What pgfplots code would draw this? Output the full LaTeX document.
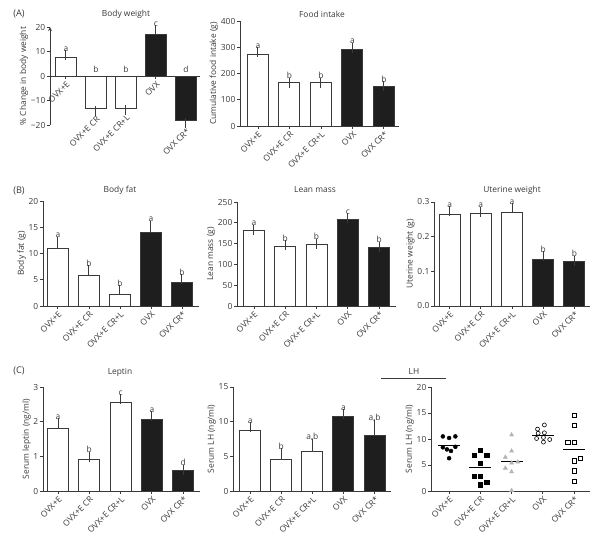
\documentclass[border=0pt]{standalone}
\usepackage{fontspec}
\setmainfont{Open Sans}
\usepackage{pgfplots}
\pgfplotsset{compat=1.18}
\definecolor{axc}{HTML}{3A3A3A}
\definecolor{kfill}{HTML}{1E1E1E}
\definecolor{tri}{HTML}{B4B4B4}
\newcommand\lbl{\fontsize{8.4bp}{9.5bp}\selectfont}
\pgfplotsset{
  base/.style={scale only axis, axis lines=left, axis line style={-, draw=axc, line width=0.8bp},
    tick style={draw=axc, line width=0.8bp}, tick align=outside, major tick length=3bp,
    minor tick num=0,
    xtick={0,1,2,3,4}, xticklabels={OVX+E,OVX+E CR,OVX+E CR+L,OVX,OVX CR*},
    xticklabel style={rotate=45, anchor=north east, inner sep=1bp, font=\lbl, text=axc},
    yticklabel style={font=\lbl, text=axc, inner sep=1.5bp},
    ylabel style={font=\lbl, text=axc, inner sep=1bp},
    /pgf/number format/assume math mode=true,
    clip=false, anchor=south west, ymin=0},
  wb/.style={ybar, bar shift=0pt, bar width=21bp, fill=white, draw=axc, line width=0.95bp,
    error bars/y dir=plus, error bars/y explicit,
    error bars/error bar style={line width=0.95bp, draw=axc},
    error bars/error mark options={mark size=5bp, line width=0.95bp, draw=axc}},
  kb/.style={wb, fill=kfill},
  wbn/.style={wb, error bars/y dir=minus},
  kbn/.style={kb, error bars/y dir=minus},
}
\tikzset{
  lt/.style={anchor=south, font=\lbl, text=axc, inner sep=1bp, yshift=2.5bp},
  xl/.style={rotate=45, anchor=north east, inner sep=1bp, font=\lbl, text=axc},
  ttl/.style={font=\lbl, text=axc},
  pl/.style={font=\fontsize{9.2bp}{10bp}\selectfont, text=axc},
}
\begin{document}
\begin{tikzpicture}
\path[use as bounding box] (0,0) rectangle (600bp,-543bp);
\node[pl] at (19bp,-14bp) {(A)};
\node[pl] at (19bp,-191bp) {(B)};
\node[pl] at (19bp,-371bp) {(C)};
\node[ttl] at (126bp,-14bp) {Body weight};
\node[ttl] at (322bp,-14bp) {Food intake};
\node[ttl] at (120bp,-190bp) {Body fat};
\node[ttl] at (315bp,-190bp) {Lean mass};
\node[ttl] at (512bp,-190bp) {Uterine weight};
\node[ttl] at (120bp,-372bp) {Leptin};
\node[ttl] at (414bp,-371bp) {LH};
\draw[axc, line width=0.8bp] (381bp,-378bp) -- (446bp,-378bp);

% ---------------- Body weight
\begin{axis}[base, at={(50bp,-125bp)}, width=150bp, height=98bp,
  axis x line=middle, axis y line=left, tick align=outside,
  x axis line style={-}, xmin=-0.53, xmax=4.47, ymin=-20, ymax=20,
  ytick={-20,-10,0,10,20}, yticklabels={−20,−10,0,10,20}, xticklabels={},
  ylabel={\% Change in body weight}]
\addplot[wb] coordinates {(0,7.6) +- (0,1.0)};
\addplot[wbn] coordinates {(1,-13.3) +- (0,1.0) (2,-13.1) +- (0,0.6)};
\addplot[kb] coordinates {(3,17.1) +- (0,1.7)};
\addplot[kbn] coordinates {(4,-18.1) +- (0,1.0)};
\node[lt] at (axis cs:0,8.6) {a};
\node[lt] at (axis cs:1,0) {b};
\node[lt] at (axis cs:2,0) {b};
\node[lt] at (axis cs:3,18.8) {c};
\node[lt] at (axis cs:4,0) {d};
\node[xl] at (axis cs:0,-1.3) {OVX+E};
\node[xl] at (axis cs:1,-15.5) {OVX+E CR};
\node[xl] at (axis cs:2,-15.0) {OVX+E CR+L};
\node[xl] at (axis cs:3,-1.3) {OVX};
\node[xl] at (axis cs:4,-20.4) {OVX CR*};
\end{axis}

% ---------------- Food intake
\begin{axis}[base, at={(240bp,-126bp)}, width=159bp, height=105bp,
  xmin=-0.57, xmax=4.48, ymax=400, ytick={0,100,200,300,400},
  ylabel={Cumulative food intake (g)}]
\addplot[wb] coordinates {(0,274) +- (0,7) (1,164) +- (0,1.5) (2,164) +- (0,1.5)};
\addplot[kb] coordinates {(3,290) +- (0,8) (4,150) +- (0,2)};
\node[lt] at (axis cs:0,281) {a};
\node[lt] at (axis cs:1,166) {b};
\node[lt] at (axis cs:2,166) {b};
\node[lt] at (axis cs:3,298) {a};
\node[lt] at (axis cs:4,152) {b};
\end{axis}

% ---------------- Body fat
\begin{axis}[base, at={(43bp,-306bp)}, width=156bp, height=105bp,
  xmin=-0.48, xmax=4.55, ymax=20, ytick={0,5,10,15,20},
  ylabel={Body fat (g)}]
\addplot[wb] coordinates {(0,11.0) +- (0,1.25) (1,5.8) +- (0,1.0) (2,2.2) +- (0,0.85)};
\addplot[kb] coordinates {(3,14.0) +- (0,1.3) (4,4.45) +- (0,0.7)};
\node[lt] at (axis cs:0,12.25) {a};
\node[lt] at (axis cs:1,6.8) {b};
\node[lt] at (axis cs:2,3.05) {b};
\node[lt] at (axis cs:3,15.3) {a};
\node[lt] at (axis cs:4,5.15) {b};
\end{axis}

% ---------------- Lean mass
\begin{axis}[base, at={(237bp,-306bp)}, width=159bp, height=104bp,
  xmin=-0.54, xmax=4.54, ymax=250, ytick={0,50,100,150,200,250},
  ylabel={Lean mass (g)}]
\addplot[wb] coordinates {(0,180.5) +- (0,3) (1,143.8) +- (0,3) (2,147.8) +- (0,2)};
\addplot[kb] coordinates {(3,207.5) +- (0,3) (4,140.5) +- (0,2)};
\node[lt] at (axis cs:0,183.5) {a};
\node[lt] at (axis cs:1,146.8) {b};
\node[lt] at (axis cs:2,149.8) {b};
\node[lt] at (axis cs:3,210.5) {c};
\node[lt] at (axis cs:4,142.5) {b};
\end{axis}

% ---------------- Uterine weight
\begin{axis}[base, at={(434bp,-306bp)}, width=156bp, height=104bp,
  xmin=-0.5, xmax=4.5, ymax=0.3, ytick={0,0.1,0.2,0.3}, yticklabels={0.0,0.1,0.2,0.3},
  ylabel={Uterine weight (g)}]
\addplot[wb] coordinates {(0,0.264) +- (0,0.010) (1,0.266) +- (0,0.006) (2,0.270) +- (0,0.013)};
\addplot[kb] coordinates {(3,0.135) +- (0,0.009) (4,0.129) +- (0,0.002)};
\node[lt] at (axis cs:0,0.274) {a};
\node[lt] at (axis cs:1,0.272) {a};
\node[lt] at (axis cs:2,0.283) {a};
\node[lt] at (axis cs:3,0.144) {b};
\node[lt] at (axis cs:4,0.131) {b};
\end{axis}

% ---------------- Leptin
\begin{axis}[base, at={(43bp,-491bp)}, width=157bp, height=104bp,
  xmin=-0.48, xmax=4.54, ymax=3, ytick={0,1,2,3},
  ylabel={Serum leptin (ng/ml)}]
\addplot[wb] coordinates {(0,1.81) +- (0,0.14) (1,0.90) +- (0,0.09) (2,2.56) +- (0,0.10)};
\addplot[kb] coordinates {(3,2.06) +- (0,0.10) (4,0.60) +- (0,0.02)};
\node[lt] at (axis cs:0,1.95) {a};
\node[lt] at (axis cs:1,0.99) {b};
\node[lt] at (axis cs:2,2.66) {c};
\node[lt] at (axis cs:3,2.16) {a};
\node[lt] at (axis cs:4,0.62) {d};
\end{axis}

% ---------------- Serum LH bars
\begin{axis}[base, at={(233bp,-491bp)}, width=158bp, height=104bp,
  xmin=-0.55, xmax=4.53, ymax=15, ytick={0,5,10,15},
  ylabel={Serum LH (ng/ml)}]
\addplot[wb] coordinates {(0,8.75) +- (0,0.5) (1,4.6) +- (0,0.9) (2,5.7) +- (0,1.1)};
\addplot[kb] coordinates {(3,10.7) +- (0,0.35) (4,8.0) +- (0,1.45)};
\node[lt] at (axis cs:0,9.25) {a};
\node[lt] at (axis cs:1,5.5) {b};
\node[lt] at (axis cs:2,6.8) {a,b};
\node[lt] at (axis cs:3,11.05) {a};
\node[lt] at (axis cs:4,9.45) {a,b};
\end{axis}

% ---------------- LH scatter
\begin{axis}[base, at={(431bp,-491bp)}, width=159bp, height=104bp,
  xmin=-0.58, xmax=4.51, ymax=20, ytick={0,5,10,15,20},
  ylabel={Serum LH (ng/ml)}]
\addplot[only marks, mark=*, mark size=2bp, black] coordinates {
 (-0.2,10.5) (0,10.2) (0.2,10.5) (-0.2,8.4) (-0.07,8.0) (0.06,7.7) (0.2,8.5) (0,6.3)};
\addplot[only marks, mark=square*, mark size=2.1bp, black] coordinates {
 (1,7.9) (0.8,6.9) (1.2,6.9) (1,5.4) (0.8,2.9) (1,2.8) (1.2,1.7) (1,1.2)};
\addplot[only marks, mark=triangle*, mark size=2.4bp, tri] coordinates {
 (2,10.8) (2,7.7) (1.8,6.5) (2,5.4) (2.2,5.6) (1.8,4.4) (2,3.7) (2,0.1)};
\addplot[only marks, mark=o, mark size=2bp, black, mark options={line width=0.6bp}] coordinates {
 (2.83,11.9) (3.05,12.7) (2.85,11.1) (3.05,11.2) (2.8,10.1) (3.02,10.3) (3.22,9.9) (3.02,9.4)};
\addplot[only marks, mark=square, mark size=2.1bp, black, mark options={line width=0.6bp}] coordinates {
 (4,14.6) (4,12.6) (3.8,9.4) (4,9.4) (4,5.8) (4.2,6.3) (4,3.9) (4,1.8)};
\addplot[black, line width=0.8bp] coordinates {(-0.35,8.76) (0.35,8.76)};
\addplot[black, line width=0.8bp] coordinates {(0.65,4.55) (1.35,4.55)};
\addplot[black, line width=0.8bp] coordinates {(1.65,5.67) (2.35,5.67)};
\addplot[black, line width=0.8bp] coordinates {(2.65,10.7) (3.35,10.7)};
\addplot[black, line width=0.8bp] coordinates {(3.65,8.0) (4.35,8.0)};
\end{axis}
\end{tikzpicture}
\end{document}
